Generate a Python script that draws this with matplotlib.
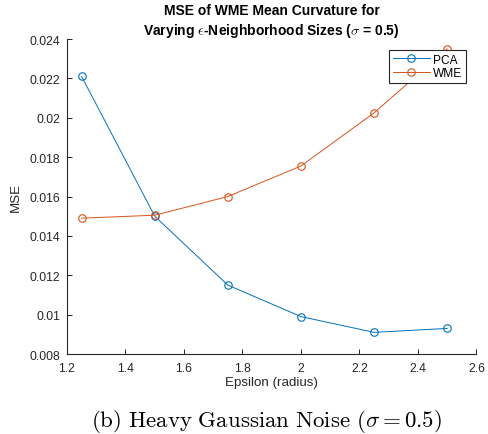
import matplotlib.pyplot as plt

# MSE of mean curvature estimates for each neighborhood radius
epsilon = [1.25, 1.5, 1.75, 2.0, 2.25, 2.5]
mse_pca = [0.0221, 0.0150, 0.0115, 0.0099, 0.0091, 0.0093]
mse_wme = [0.0149, 0.01505, 0.0160, 0.01755, 0.02025, 0.0235]

x_ticks = [1.2, 1.4, 1.6, 1.8, 2.0, 2.2, 2.4, 2.6]
x_tick_labels = ['1.2', '1.4', '1.6', '1.8', '2', '2.2', '2.4', '2.6']
y_ticks = [0.008, 0.010, 0.012, 0.014, 0.016, 0.018, 0.020, 0.022, 0.024]
y_tick_labels = ['0.008', '0.01', '0.012', '0.014', '0.016', '0.018', '0.02', '0.022', '0.024']

plt.rcParams['font.family'] = ['Liberation Sans', 'DejaVu Sans']
plt.rcParams['mathtext.fontset'] = 'cm'

ink = '#262626'
blue = '#0072BD'
orange = '#D95319'

fig = plt.figure(figsize=(4.88, 4.35), dpi=100, facecolor='white')
ax = fig.add_axes([0.1373, 0.1839, 0.839, 0.7241])

ax.plot(epsilon, mse_pca, color=blue, lw=0.7, marker='o', ms=5.4,
        mfc='none', mew=0.8, label='PCA')
ax.plot(epsilon, mse_wme, color=orange, lw=0.7, marker='o', ms=5.4,
        mfc='none', mew=0.8, label='WME')

ax.set_xlim(1.2, 2.6)
ax.set_ylim(0.008, 0.024)
ax.set_xticks(x_ticks)
ax.set_xticklabels(x_tick_labels)
ax.set_yticks(y_ticks)
ax.set_yticklabels(y_tick_labels)

# MATLAB-style axes: no box, ticks pointing inward
for side in ('top', 'right'):
    ax.spines[side].set_visible(False)
for side in ('left', 'bottom'):
    ax.spines[side].set_color(ink)
    ax.spines[side].set_linewidth(0.8)
ax.tick_params(direction='in', length=3.5, width=0.7, colors=ink,
               labelsize=8.7)
ax.tick_params(axis='x', pad=5.5)
ax.tick_params(axis='y', pad=5)

ax.set_xlabel('Epsilon (radius)', fontsize=9.6, color=ink, labelpad=2)
ax.set_ylabel('MSE', fontsize=9.6, color=ink, labelpad=5)
ax.set_title('MSE of WME Mean Curvature for\n'
             r'Varying $\epsilon$-Neighborhood Sizes ($\sigma$ = 0.5)',
             fontsize=10, fontweight='bold', color='black', pad=3,
             linespacing=1.3)

leg = ax.legend(loc='upper right', bbox_to_anchor=(0.9736, 0.9651),
                borderaxespad=0, fontsize=8.6, frameon=True, fancybox=False,
                handlelength=3.1, handletextpad=0.25, borderpad=0.3,
                labelspacing=0.15)
leg.get_frame().set_edgecolor(ink)
leg.get_frame().set_linewidth(0.8)
leg.get_frame().set_alpha(1)

fig.text(0.547, 0.032, r'$\mathrm{(b)\ Heavy\ Gaussian\ Noise\ }(\sigma = 0.5)$',
         ha='center', va='center', fontsize=16.5, color='black')

fig.savefig('out.png', dpi=100, facecolor='white')
